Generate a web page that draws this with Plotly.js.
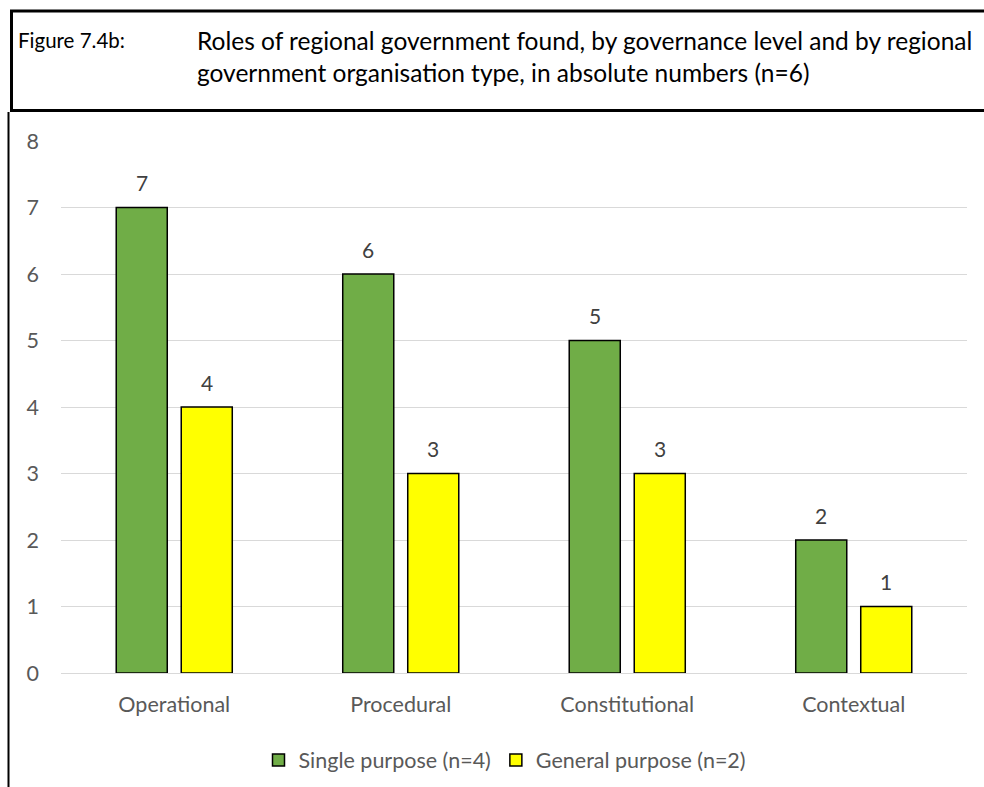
<!DOCTYPE html>
<html>
<head>
<meta charset="utf-8">
<script src="https://cdn.plot.ly/plotly-3.0.1.min.js"></script>
<style>html,body{margin:0;padding:0;background:#fff;}#chart{width:984px;height:787px;}</style>
</head>
<body>
<div id="chart"></div>
<script>
const categories = ["Operational", "Procedural", "Constitutional", "Contextual"];
const singlePurpose = [7, 6, 5, 2];
const generalPurpose = [4, 3, 3, 1];
const seriesNames = ["Single purpose (n=4)", "General purpose (n=2)"];
const yTicks = [0, 1, 2, 3, 4, 5, 6, 7, 8];
const figureLabel = "Figure 7.4b:";
const titleLines = ["Roles of regional government found, by governance level and by regional",
                    "government organisation type, in absolute numbers (n=6)"];

const W = 984, H = 787;
const M = {l: 61, r: 17, t: 141, b: 114, autoexpand: false};
const PW = W - M.l - M.r, PH = H - M.t - M.b;
const px = x => (x - M.l) / PW;
const py = y => (H - M.b - y) / PH;
const FONT = "Lato, 'Open Sans', sans-serif";

const barLine = {color: "#000000", width: 1.5};
const traces = [
  {type: "bar", name: seriesNames[0], x: categories, y: singlePurpose,
   marker: {color: "#70AD47", line: barLine}, hoverinfo: "x+y"},
  {type: "bar", name: seriesNames[1], x: categories, y: generalPurpose,
   marker: {color: "#FFFF00", line: barLine}, hoverinfo: "x+y"}
];

const offset = 32.5 / (PW / categories.length);
const annotations = [];
[singlePurpose, generalPurpose].forEach((vals, s) => {
  vals.forEach((v, i) => {
    annotations.push({x: i + (s === 0 ? -offset : offset), y: v, xref: "x", yref: "y",
      text: String(v), showarrow: false, yanchor: "middle", yshift: 25,
      font: {family: FONT, size: 21, color: "#404040"}});
  });
});
annotations.push({x: px(16), y: py(40), xref: "paper", yref: "paper", xanchor: "left", yanchor: "middle",
  text: figureLabel, showarrow: false, font: {family: FONT, size: 20.5, color: "#000"}});
titleLines.forEach((t, k) => {
  annotations.push({x: px(195), y: py(40 + 33 * k), xref: "paper", yref: "paper", xanchor: "left", yanchor: "middle",
    text: t, showarrow: false, font: {family: FONT, size: 24.5, color: "#000"}});
});

const shapes = [
  {type: "rect", xref: "paper", yref: "paper", x0: px(11.5), x1: px(1010), y0: py(110.5), y1: py(11),
   line: {color: "#000", width: 3}, fillcolor: "rgba(0,0,0,0)"},
  {type: "line", xref: "paper", yref: "paper", x0: px(8.5), x1: px(8.5), y0: py(112), y1: py(800),
   line: {color: "#000", width: 2}}
];

const layout = {
  width: W, height: H, margin: M,
  paper_bgcolor: "#fff", plot_bgcolor: "#fff",
  font: {family: FONT, size: 21, color: "#595959"},
  barmode: "group", bargap: 0.426, bargroupgap: 0.215,
  showlegend: true,
  legend: {orientation: "h", x: px(505), xanchor: "center", y: py(760), yanchor: "middle",
           font: {family: FONT, size: 21.5, color: "#595959"}, itemwidth: 30, traceorder: "normal"},
  xaxis: {type: "category", showgrid: false, showline: false, zeroline: false, ticks: "",
          ticklabelstandoff: 16, tickfont: {family: FONT, size: 21.5, color: "#595959"}},
  yaxis: {range: [0, 8], tickvals: yTicks, showgrid: true, gridcolor: "#D9D9D9", gridwidth: 1,
          zeroline: true, zerolinecolor: "#D9D9D9", zerolinewidth: 1, showline: false, ticks: "",
          ticklabelstandoff: 21, tickfont: {family: FONT, size: 21.5, color: "#595959"}},
  annotations: annotations,
  shapes: shapes
};

Plotly.newPlot("chart", traces, layout, {displayModeBar: false, staticPlot: true});
</script>
</body>
</html>
